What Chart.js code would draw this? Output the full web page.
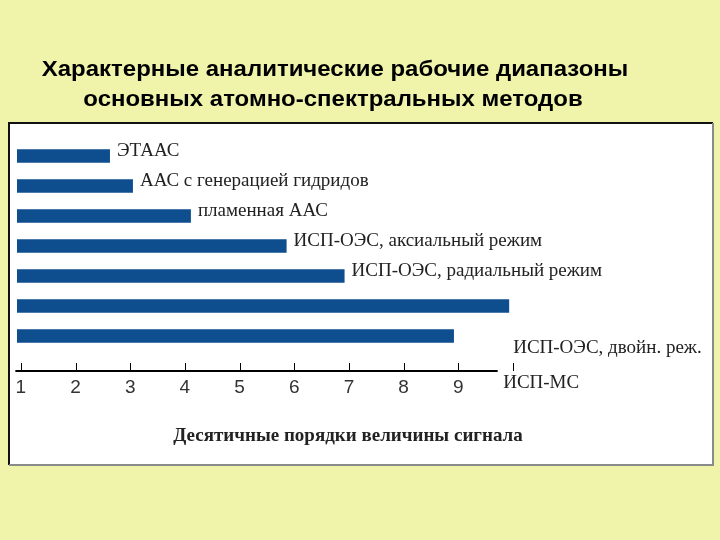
<!DOCTYPE html>
<html>
<head>
<meta charset="utf-8">
<script src="https://cdn.jsdelivr.net/npm/chart.js@4"></script>
<style>
  html, body { margin: 0; padding: 0; background: #f0f4ab; }
  #wrap { width: 720px; height: 540px; }
</style>
</head>
<body>
<div id="wrap"><canvas id="c" width="720" height="540"></canvas></div>
<script>
const titleLines = ["Характерные аналитические рабочие диапазоны", "основных атомно-спектральных методов"];
const methods = [
  "ЭТААС",
  "ААС с генерацией гидридов",
  "пламенная ААС",
  "ИСП-ОЭС, аксиальный режим",
  "ИСП-ОЭС, радиальный режим",
  "ИСП-МС",
  "ИСП-ОЭС, двойн. реж."
];
const rangeEnd = [2.63, 3.05, 4.11, 5.86, 6.92, 9.93, 8.92];
const axisStart = 0.93;
const tickValues = [1, 2, 3, 4, 5, 6, 7, 8, 9];
const tickMarks = [1, 2, 3, 4, 5, 6, 7, 8, 9, 10];
const axisEnd = 9.72;
const axisTitle = "Десятичные порядки величины сигнала";

const BAR = "#0e4e8f";
const BG = "#f0f4ab";

const decor = {
  id: "decor",
  beforeDraw(chart) {
    const ctx = chart.ctx;
    ctx.save();
    ctx.fillStyle = BG;
    ctx.fillRect(0, 0, chart.width, chart.height);
    // white panel
    ctx.fillStyle = "#ffffff";
    ctx.fillRect(9, 123, 704, 342);
    ctx.lineWidth = 2;
    ctx.strokeStyle = "#111";
    ctx.beginPath();
    ctx.moveTo(9, 465); ctx.lineTo(9, 123); ctx.lineTo(713, 123);
    ctx.stroke();
    ctx.strokeStyle = "#8a8a8a";
    ctx.beginPath();
    ctx.moveTo(713, 123); ctx.lineTo(713, 465); ctx.lineTo(9, 465);
    ctx.stroke();
    // title (the original font is a bit wider than Arial)
    ctx.fillStyle = "#000";
    ctx.textAlign = "center";
    ctx.textBaseline = "middle";
    ctx.font = "bold 22px 'Liberation Sans'";
    [[335, 70], [333, 100]].forEach(([x, y], i) => {
      ctx.save();
      ctx.translate(x, y);
      ctx.scale(1.09, 1);
      ctx.fillText(titleLines[i], 0, 0);
      ctx.restore();
    });
    ctx.restore();
  },
  afterDatasetsDraw(chart) {
    const ctx = chart.ctx;
    const xs = chart.scales.x;
    const axisY = chart.chartArea.bottom + 20;
    ctx.save();
    // axis line and tick marks
    ctx.strokeStyle = "#000";
    ctx.lineWidth = 2;
    ctx.beginPath();
    ctx.moveTo(xs.getPixelForValue(0.9), axisY);
    ctx.lineTo(xs.getPixelForValue(axisEnd), axisY);
    ctx.stroke();
    ctx.lineWidth = 1;
    tickMarks.forEach(v => {
      const px = Math.round(xs.getPixelForValue(v)) + 0.5;
      ctx.beginPath();
      ctx.moveTo(px, axisY - 8);
      ctx.lineTo(px, axisY);
      ctx.stroke();
    });
    // method labels
    const bars = chart.getDatasetMeta(0).data;
    ctx.fillStyle = "#222";
    ctx.font = "19px 'Liberation Serif'";
    ctx.textAlign = "left";
    ctx.textBaseline = "middle";
    bars.forEach((b, i) => {
      let x = b.x + 7, y = b.y - 5;
      if (i === 5) { x = b.x - 6; y = axisY + 12; }
      if (i === 6) { x = bars[5].x + 4; y = b.y + 12; }
      ctx.fillText(methods[i], x, y);
    });
    // axis title
    ctx.font = "bold 19px 'Liberation Serif'";
    ctx.textAlign = "center";
    ctx.fillStyle = "#222";
    ctx.fillText(axisTitle, 348, 436);
    ctx.restore();
  }
};

new Chart(document.getElementById("c"), {
  type: "bar",
  data: {
    labels: methods,
    datasets: [{
      data: rangeEnd.map(v => [axisStart, v]),
      backgroundColor: BAR,
      borderWidth: 0,
      barPercentage: 0.45,
      categoryPercentage: 1
    }]
  },
  options: {
    indexAxis: "y",
    responsive: false,
    animation: false,
    layout: { padding: { left: 17, top: 141, right: 207, bottom: 0 } },
    plugins: { legend: { display: false }, title: { display: false }, tooltip: { enabled: false } },
    scales: {
      y: { display: false },
      x: {
        type: "linear",
        min: axisStart,
        max: 10,
        afterFit(scale) { scale.height = 189; scale.paddingLeft = 0; scale.paddingRight = 0; },
        afterBuildTicks(scale) { scale.ticks = tickValues.map(v => ({ value: v })); },
        border: { display: false },
        grid: { display: false },
        ticks: {
          padding: 17,
          color: "#333",
          font: { family: "'Liberation Sans'", size: 19 },
          maxRotation: 0,
          autoSkip: false
        }
      }
    }
  },
  plugins: [decor]
});
</script>
</body>
</html>
